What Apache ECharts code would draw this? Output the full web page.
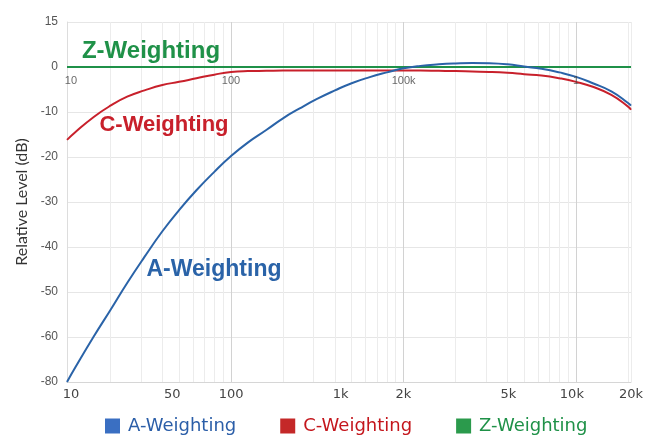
<!DOCTYPE html>
<html>
<head>
<meta charset="utf-8">
<script src="https://cdn.jsdelivr.net/npm/echarts@6/dist/echarts.min.js"></script>
<style>
    html, body { margin: 0; padding: 0; background: #ffffff; }
    #chart { width: 670px; height: 446px; }
</style>
</head>
<body>
<div id="chart"></div>
<script>
    // frequencies (Hz) and weighting values (dB)
    const freqs = [11.2, 12.5, 16, 20, 25, 31.5, 40, 50, 63, 80,
        100, 125, 160, 200, 250, 315, 400, 500, 630, 800,
        1000, 1250, 1600, 2000, 2500, 3150, 4000, 5000, 6300, 8000,
        10000, 12500, 16000, 20000, 20800];
    const aWeight = [-70, -66.8, -59.9, -54.0, -48.0, -42.2, -36.5, -31.8, -27.4, -23.3,
        -19.8, -16.8, -14.0, -11.4, -9.2, -7.1, -5.2, -3.6, -2.3, -1.2,
        -0.3, 0.25, 0.6, 0.8, 0.9, 0.85, 0.6, 0.1, -0.4, -1.2,
        -2.2, -3.6, -5.4, -8.0, -8.6];
    const cWeight = [-16.2, -14.5, -11.1, -8.6, -6.6, -5.2, -4.0, -3.3, -2.5, -1.7,
        -1.1, -0.9, -0.85, -0.8, -0.8, -0.8, -0.8, -0.8, -0.8, -0.8,
        -0.8, -0.8, -0.85, -0.9, -1.0, -1.1, -1.3, -1.6, -1.9, -2.5,
        -3.3, -4.4, -6.2, -8.8, -9.5];
    const zFreqs = [11.2, 20800];
    const zWeight = [0, 0];

    // axis ticks
    const xMin = 11.2, xMax = 20800;
    const bottomTickAt = [11.8, 45.7, 100, 432, 998, 4050, 9450, 20800];
    const bottomTickLabels = ['10', '50', '100', '1k', '2k', '5k', '10k', '20k'];
    // the small labels printed just under the 0 dB line
    const zeroTickAt = [11.8, 100, 1000, 10000];
    const zeroTickLabels = ['10', '100', '100k', '1'];
    const majorGrid = [100, 1000, 10000];
    const minorGrid = [11.2, 20, 30, 40, 50, 60, 70, 80, 90,
        200, 300, 400, 500, 600, 700, 800, 900,
        2000, 3000, 4000, 5000, 6000, 7000, 8000, 9000, 20000, 20800];
    const yTickValues = [10, 0, -10, -20, -30, -40, -50, -60, -70];
    const yTickLabels = ['15', '0', '-10', '-20', '-30', '-40', '-50', '-60', '-80'];

    const lg = v => Math.log10(v);
    const pick = (ats, labels) => function (v) {
        for (let i = 0; i < ats.length; i++) {
            if (Math.abs(lg(ats[i]) - v) < 1e-6) return labels[i];
        }
        return '';
    };
    const pairs = (xs, ys) => xs.map((f, i) => [lg(f), ys[i]]);

    const blue = '#2a63a8', red = '#c8202b', green = '#1f9148';
    const noteFont = '"Liberation Sans", Arial, sans-serif';

    let myChart = echarts.init(document.getElementById('chart'));
    myChart.setOption({
        animation: false,
        backgroundColor: '#ffffff',
        grid: { left: 67, right: 39, top: 22, bottom: 64, containLabel: false },
        xAxis: [
            {
                type: 'value', position: 'bottom',
                min: lg(xMin), max: lg(xMax),
                axisLine: { onZero: false, show: true, lineStyle: { color: '#d6d6d6', width: 1 } },
                axisTick: { show: false, customValues: minorGrid.map(lg) },
                splitLine: { show: true, lineStyle: { color: '#ececec', width: 1 } },
                axisLabel: {
                    customValues: bottomTickAt.map(lg),
                    formatter: pick(bottomTickAt, bottomTickLabels),
                    color: '#444', fontSize: 13, margin: 6,
                    fontFamily: '"DejaVu Sans", sans-serif'
                }
            },
            {
                type: 'value', position: 'top',
                min: lg(xMin), max: lg(xMax),
                axisLine: { onZero: false, show: false },
                axisTick: { show: false, customValues: majorGrid.map(lg) },
                axisLabel: { show: false },
                splitLine: { show: true, lineStyle: { color: '#d2d2d2', width: 1 } }
            }
        ],
        yAxis: {
            type: 'value', min: -70, max: 10, interval: 10,
            name: 'Relative Level (dB)',
            nameLocation: 'middle', nameGap: 37, nameRotate: 90,
            nameTextStyle: { color: '#333', fontSize: 16, fontFamily: 'Lato, sans-serif' },
            axisLine: { show: true, lineStyle: { color: '#dddddd' } },
            axisTick: { show: false },
            splitLine: { lineStyle: { color: '#e6e6e6' } },
            axisLabel: {
                formatter: v => yTickLabels[yTickValues.indexOf(v)],
                color: '#555', fontSize: 12, margin: 9,
                fontFamily: '"Liberation Sans", Arial, sans-serif'
            }
        },
        legend: {
            left: 100, top: 412,
            itemWidth: 15, itemHeight: 15, itemGap: 44,
            icon: 'rect',
            textStyle: { fontSize: 18, fontFamily: '"DejaVu Sans", sans-serif', padding: [0, 0, 0, 3] },
            data: [
                { name: 'A-Weighting', itemStyle: { color: '#3a6fc2' }, textStyle: { color: '#2b5ea8' } },
                { name: 'C-Weighting', itemStyle: { color: '#c42828' }, textStyle: { color: '#c4161c' } },
                { name: 'Z-Weighting', itemStyle: { color: '#2b9a4c' }, textStyle: { color: '#1f9148' } }
            ]
        },
        graphic: [
            { type: 'text', z: 100, x: 151, y: 51, style: { text: 'Z-Weighting', fill: green, font: 'bold 24px ' + noteFont, align: 'center', verticalAlign: 'middle' } },
            { type: 'text', z: 100, x: 164, y: 125, style: { text: 'C-Weighting', fill: red, font: 'bold 22px ' + noteFont, align: 'center', verticalAlign: 'middle' } },
            { type: 'text', z: 100, x: 214, y: 270, style: { text: 'A-Weighting', fill: blue, font: 'bold 23px ' + noteFont, align: 'center', verticalAlign: 'middle' } }
        ],
        series: [
            {
                name: 'Z-Weighting', type: 'line', xAxisIndex: 0,
                data: pairs(zFreqs, zWeight),
                symbol: 'none', color: green,
                lineStyle: { width: 2, color: green }
            },
            {
                name: 'C-Weighting', type: 'line', xAxisIndex: 0,
                data: pairs(freqs, cWeight),
                symbol: 'none', smooth: 0.5, color: red,
                lineStyle: { width: 2, color: red }
            },
            {
                name: 'A-Weighting', type: 'line', xAxisIndex: 0,
                data: pairs(freqs, aWeight),
                symbol: 'none', smooth: 0.5, color: blue,
                lineStyle: { width: 2, color: blue }
            },
            {
                // tick labels that sit on the 0 dB line
                name: 'zeroLabels', type: 'scatter', xAxisIndex: 0,
                data: zeroTickAt.map(f => [lg(f), 0]),
                symbolSize: 0, itemStyle: { color: 'rgba(0,0,0,0)' },
                silent: true, z: 10,
                label: {
                    show: true, position: 'bottom', distance: 8,
                    formatter: p => zeroTickLabels[p.dataIndex],
                    color: '#444', fontSize: 11,
                    fontFamily: '"Liberation Sans", Arial, sans-serif'
                }
            }
        ]
    });
</script>
</body>
</html>
